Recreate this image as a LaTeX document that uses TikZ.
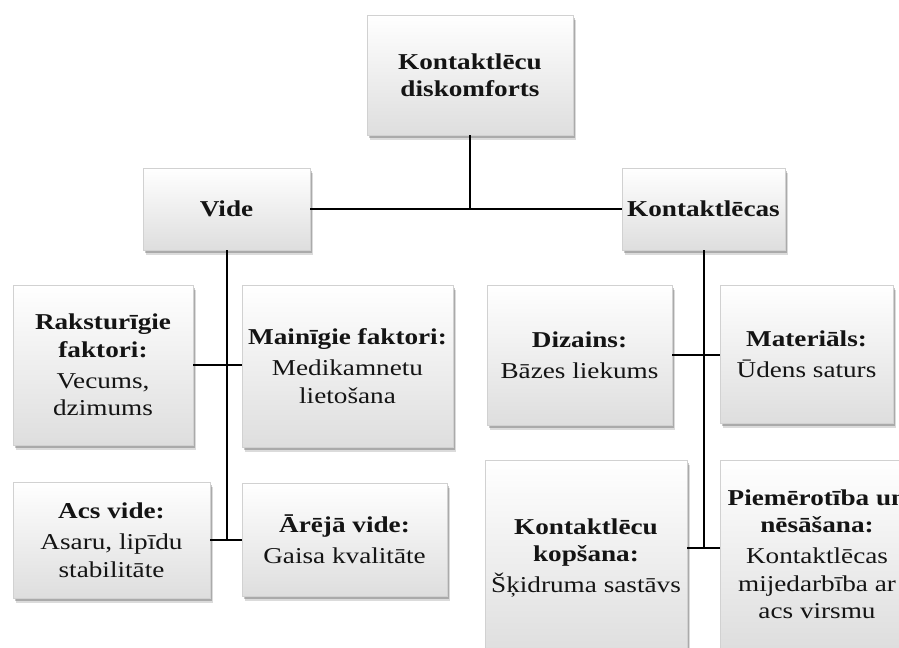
\documentclass[tikz,border=0pt]{standalone}
\usepackage{fontspec}
\setmainfont{Liberation Serif}[FakeStretch=1.2]
\usetikzlibrary{shadows}
\begin{document}
\begin{tikzpicture}[x=0.75pt,y=-0.75pt,
  box/.style={rectangle, inner sep=0pt, align=center, draw=black!18, line width=0.3pt,
    top color=white, middle color=white, bottom color=black!13,
    text=black!92,
    font=\fontsize{17}{20.5}\selectfont,
    general shadow={shadow xshift=1.6pt, shadow yshift=-2.2pt, fill=black, opacity=0.22},
    general shadow={shadow xshift=2.6pt, shadow yshift=-3.4pt, fill=black, opacity=0.14}},
  link/.style={draw=black, line width=1.5pt}]
\useasboundingbox (0,0) rectangle (899,648);
\clip (0,0) rectangle (899,648);
\fill[white] (0,0) rectangle (899,648);

\node[box, minimum width=154.5pt, minimum height=90pt] (top) at (470,75)
  {\bfseries Kontaktlēcu\\\bfseries diskomforts};
\node[box, minimum width=125.25pt, minimum height=61.5pt] (vide) at (226.5,209)
  {\bfseries Vide};
\node[box, minimum width=122.25pt, minimum height=61.5pt] (kl) at (703.5,209)
  {\bfseries Kontaktlēcas};

\node[box, minimum width=135pt, minimum height=120pt] (rak) at (103,365)
  {\bfseries Raksturīgie\\\bfseries faktori:\\[3pt]Vecums,\\dzimums};
\node[box, minimum width=158.25pt, minimum height=121.5pt] (mai) at (347.5,366)
  {\bfseries Mainīgie faktori:\\[3pt]Medikamnetu\\lietošana};
\node[box, minimum width=147.75pt, minimum height=87pt] (acs) at (111.5,540)
  {\bfseries Acs vide:\\[3pt]Asaru, lipīdu\\stabilitāte};
\node[box, minimum width=153.75pt, minimum height=84.75pt] (arej) at (344.5,539.5)
  {\bfseries Ārējā vide:\\[3pt]Gaisa kvalitāte};

\node[box, minimum width=138.75pt, minimum height=105pt] (diz) at (579.5,355)
  {\bfseries Dizains:\\[3pt]Bāzes liekums};
\node[box, minimum width=129.75pt, minimum height=103.5pt] (mat) at (806.5,354)
  {\bfseries Materiāls:\\[3pt]Ūdens saturs};
\node[box, minimum width=151.5pt, minimum height=147pt] (kop) at (586,558)
  {\bfseries Kontaktlēcu\\\bfseries kopšana:\\[3pt]Šķidruma sastāvs};
\node[box, minimum width=145.5pt, minimum height=141pt] (piem) at (817,554)
  {\bfseries Piemērotība un\\\bfseries nēsāšana:\\[3pt]Kontaktlēcas\\mijedarbība ar\\acs virsmu};

\coordinate (jb) at (703.5,548);

\draw[link] (top.south) -- (top.south |- vide.east);
\draw[link] (vide.east) -- (kl.west);
\draw[link] (vide.south) -- (vide.south |- acs.east);
\draw[link] (rak.east) -- (mai.west |- rak.east);
\draw[link] (acs.east) -- (arej.west |- acs.east);
\draw[link] (kl.south) -- (jb);
\draw[link] (diz.east) -- (mat.west |- diz.east);
\draw[link] (kop.east |- jb) -- (piem.west |- jb);
\end{tikzpicture}
\end{document}
